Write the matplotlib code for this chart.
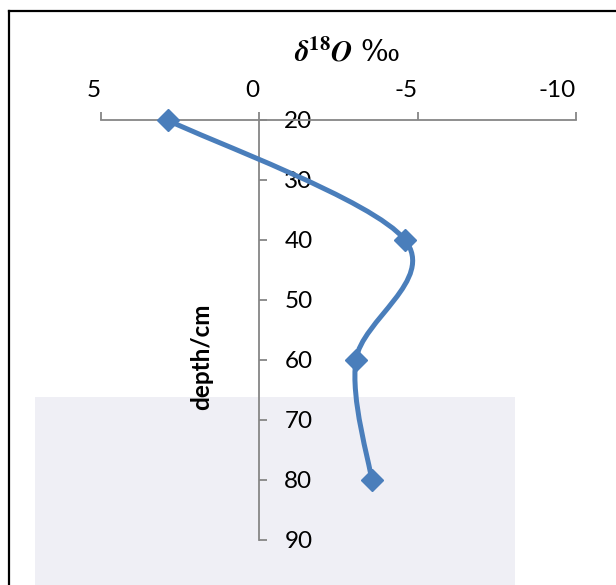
import numpy as np
import matplotlib
matplotlib.use("Agg")
import matplotlib.pyplot as plt
from matplotlib.path import Path
from matplotlib.patches import PathPatch, Rectangle
from matplotlib.lines import Line2D

# data
depth = [20, 40, 60, 80]
d18o = [2.9, -4.6, -3.05, -3.55]
xticks = [5, 0, -5, -10]
yticks = [20, 30, 40, 50, 60, 70, 80, 90]

plt.rcParams['font.family'] = ['Lato', 'DejaVu Sans']
plt.rcParams['mathtext.fontset'] = 'stix'

W, H = 616, 585
fig = plt.figure(figsize=(W / 100, H / 100), dpi=100)

# faint watermark background
fig.patches.append(Rectangle((35 / W, 0), 480 / W, (H - 397) / H,
                             transform=fig.transFigure, facecolor='#efeff5',
                             edgecolor='none', zorder=-5))
# figure border (left and top visible)
fig.lines.append(Line2D([9 / W, 9 / W], [0, 1 - 11 / H], transform=fig.transFigure,
                        color='black', lw=1.6))
fig.lines.append(Line2D([9 / W, 1], [1 - 11 / H, 1 - 11 / H], transform=fig.transFigure,
                        color='black', lw=1.6))

ax = fig.add_axes([101 / W, 1 - 540 / H, 475 / W, 420 / H])
ax.set_zorder(5)
ax.patch.set_alpha(0)
ax.set_xlim(5, -10)
ax.set_ylim(90, 20)

axis_col = '#868686'
for s in ['bottom', 'left']:
    ax.spines[s].set_visible(False)
ax.spines['top'].set_color(axis_col)
ax.spines['top'].set_linewidth(1.3)
ax.spines['right'].set_position(('data', 0))
ax.spines['right'].set_color(axis_col)
ax.spines['right'].set_linewidth(1.3)

ax.xaxis.tick_top()
ax.yaxis.tick_right()
ax.set_xticks(xticks)
ax.set_xticklabels([str(v) for v in xticks], ha='right')
ax.set_yticks(yticks)
ax.set_yticklabels([str(v) for v in yticks])
ax.tick_params(axis='x', direction='out', length=6, width=1.3, color=axis_col,
               pad=8, labelsize=17.5)
ax.tick_params(axis='y', direction='out', length=6, width=1.3, color=axis_col,
               pad=12, labelsize=17.5)

# smoothed line (Excel-like cardinal spline computed in display space)
fig.canvas.draw()
pts = ax.transData.transform(np.column_stack([d18o, depth]))
ext = np.vstack([pts[0], pts, pts[-1]])
verts = [pts[0]]
codes = [Path.MOVETO]
for i in range(len(pts) - 1):
    p0, p1, p2, p3 = ext[i], ext[i + 1], ext[i + 2], ext[i + 3]
    c1 = p1 + (p2 - p0) / 6
    c2 = p2 - (p3 - p1) / 6
    verts += [c1, c2, p2]
    codes += [Path.CURVE4] * 3
verts_data = ax.transData.inverted().transform(np.array(verts))
col = '#4a7ebb'
ax.add_patch(PathPatch(Path(verts_data, codes), facecolor='none', edgecolor=col,
                       lw=3.6, capstyle='round', joinstyle='round', zorder=3))
ax.plot(d18o, depth, linestyle='none', marker='D', markersize=11.5, color=col,
        zorder=4, clip_on=False)

fig.text(347 / W, 1 - 53 / H, r'$\boldsymbol{\delta}^{\mathbf{18}}\boldsymbol{O}$ ‰',
         ha='center', va='center', fontsize=21, family=['DejaVu Serif'])
fig.text(202 / W, 1 - 357 / H, 'depth/cm', rotation=90, ha='center', va='center',
         fontsize=17.5, fontweight='bold')

fig.savefig('out.png', dpi=100)
